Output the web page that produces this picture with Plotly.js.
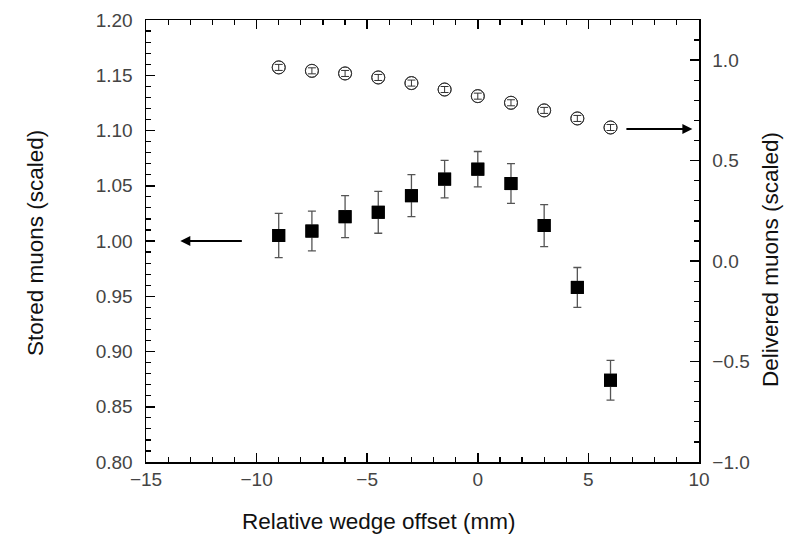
<!DOCTYPE html>
<html><head><meta charset="utf-8">
<script src="https://cdn.plot.ly/plotly-3.0.1.min.js"></script>
<style>
html,body{margin:0;padding:0;background:#fff;}
#wrap{position:relative;width:793px;height:542px;}
#axesTop,#axesMain,#marks{position:absolute;left:0;top:0;width:793px;height:542px;}
</style>
</head><body><div id="wrap"><div id="axesTop"></div><div id="axesMain"></div><div id="marks"></div></div>
<script>
// Relative wedge offset (mm)
const offsets = [-9, -7.5, -6, -4.5, -3, -1.5, 0, 1.5, 3, 4.5, 6];
// Stored muons (scaled), left axis
const stored = [1.005, 1.009, 1.022, 1.026, 1.041, 1.056, 1.065, 1.052, 1.014, 0.958, 0.874];
const storedErr = [0.020, 0.018, 0.019, 0.019, 0.019, 0.017, 0.016, 0.018, 0.019, 0.018, 0.018];
// Delivered muons (scaled), right axis
const delivered = [0.964, 0.947, 0.934, 0.914, 0.886, 0.854, 0.821, 0.788, 0.750, 0.710, 0.665];
const deliveredErr = [0.015, 0.015, 0.015, 0.015, 0.015, 0.015, 0.015, 0.015, 0.015, 0.015, 0.015];
// Titles
const xTitle = 'Relative wedge offset (mm)';
const yTitle = 'Stored muons (scaled)';
const y2Title = 'Delivered muons (scaled)';

const FONT = 'Liberation Sans, Arial, sans-serif';
const TITLEFONT = {family: FONT, size: 22.5, color: '#111'};
const MARGIN = {l: 146, r: 94, t: 20, b: 80};
const XR = [-15, 10], YR = [0.8, 1.2], Y2R = [-1.0, 1.2];

// Layer 1: top axis ticks only
Plotly.newPlot('axesTop', [], {
  width: 793, height: 542, margin: MARGIN, showlegend: false,
  paper_bgcolor: 'rgba(0,0,0,0)', plot_bgcolor: 'rgba(0,0,0,0)',
  xaxis: {range: XR, side: 'top', dtick: 5, tick0: -15, showticklabels: false, showgrid: false, zeroline: false,
          showline: true, linecolor: '#000', linewidth: 1.5, ticks: 'inside', ticklen: 9, tickwidth: 1.5, tickcolor: '#000',
          minor: {dtick: 1, ticks: 'inside', ticklen: 5, tickwidth: 1.2, tickcolor: '#000', showgrid: false}},
  yaxis: {range: YR, visible: false}
}, {staticPlot: true});

// Layer 2: the three labelled axes
Plotly.newPlot('axesMain', [
  {x: offsets, y: stored, type: 'scatter', mode: 'markers', marker: {symbol: 'square', size: 13, color: '#000'}},
  {x: offsets, y: delivered, type: 'scatter', mode: 'markers', yaxis: 'y2', marker: {symbol: 'circle-open', size: 13, color: '#333'}}
], {
  width: 793, height: 542, margin: MARGIN, showlegend: false,
  paper_bgcolor: 'rgba(0,0,0,0)', plot_bgcolor: 'rgba(0,0,0,0)',
  font: {family: FONT, size: 19},
  xaxis: {range: XR, dtick: 5, tick0: -15, showgrid: false, zeroline: false, showline: true, linecolor: '#000', linewidth: 1.5,
          mirror: 'ticks', ticks: 'inside', ticklen: 9, tickwidth: 1.5, tickcolor: '#000',
          minor: {dtick: 1, ticks: 'inside', ticklen: 5, tickwidth: 1.2, tickcolor: '#000', showgrid: false}},
  yaxis: {range: YR, dtick: 0.05, tick0: 0.8, tickformat: '.2f', showgrid: false, zeroline: false, showline: true, linecolor: '#000', linewidth: 1.5,
          ticks: 'inside', ticklen: 9, tickwidth: 1.5, tickcolor: '#000', ticklabelstandoff: 8,
          minor: {dtick: 0.01, ticks: 'inside', ticklen: 5, tickwidth: 1.2, tickcolor: '#000', showgrid: false}},
  yaxis2: {overlaying: 'y', side: 'right', anchor: 'x', range: Y2R, dtick: 0.5, tick0: -1, tickformat: '.1f', showgrid: false, zeroline: false,
           showline: true, linecolor: '#000', linewidth: 1.5, ticks: 'inside', ticklen: 9, tickwidth: 1.5, tickcolor: '#000', ticklabelstandoff: 8,
           minor: {dtick: 0.1, ticks: 'inside', ticklen: 5, tickwidth: 1.2, tickcolor: '#000', showgrid: false}}
}, {staticPlot: true});

// Layer 3: marks with error bars, arrows and titles (hidden axes, same scales)
Plotly.newPlot('marks', [
  {x: offsets, y: stored, type: 'scatter', mode: 'markers',
   marker: {symbol: 'square', size: 13, color: '#000'},
   error_y: {type: 'data', array: storedErr, visible: true, color: '#555', thickness: 1.3, width: 4}},
  {x: offsets, y: delivered, type: 'scatter', mode: 'markers', yaxis: 'y2',
   marker: {symbol: 'circle-open', size: 13, color: '#333'},
   error_y: {type: 'data', array: deliveredErr, visible: true, color: '#333', thickness: 1, width: 4}}
], {
  width: 793, height: 542, margin: MARGIN, showlegend: false,
  paper_bgcolor: 'rgba(0,0,0,0)', plot_bgcolor: 'rgba(0,0,0,0)',
  font: {family: FONT, size: 19},
  xaxis: {range: XR, visible: false},
  yaxis: {range: YR, visible: false},
  yaxis2: {overlaying: 'y', side: 'right', anchor: 'x', range: Y2R, visible: false},
  annotations: [
    {x: -13.45, y: 1.0, xref: 'x', yref: 'y', ax: -10.6, ay: 1.0, axref: 'x', ayref: 'y',
     showarrow: true, arrowhead: 2, arrowsize: 1, arrowwidth: 2, arrowcolor: '#000', text: ''},
    {x: 9.7, y: 0.657, xref: 'x', yref: 'y2', ax: 6.65, ay: 0.657, axref: 'x', ayref: 'y2',
     showarrow: true, arrowhead: 2, arrowsize: 1, arrowwidth: 2, arrowcolor: '#000', text: ''},
    {text: xTitle, xref: 'paper', yref: 'paper', x: 0.5, y: 0, xshift: -44, yshift: -59,
     xanchor: 'center', yanchor: 'middle', showarrow: false, font: TITLEFONT},
    {text: yTitle, xref: 'paper', yref: 'paper', x: 0, y: 0.5, xshift: -111, yshift: -2,
     xanchor: 'center', yanchor: 'middle', textangle: -90, showarrow: false, font: TITLEFONT},
    {text: y2Title, xref: 'paper', yref: 'paper', x: 1, y: 0.5, xshift: 71, yshift: -19,
     xanchor: 'center', yanchor: 'middle', textangle: -90, showarrow: false, font: TITLEFONT}
  ]
}, {staticPlot: true});
</script>
</body></html>
